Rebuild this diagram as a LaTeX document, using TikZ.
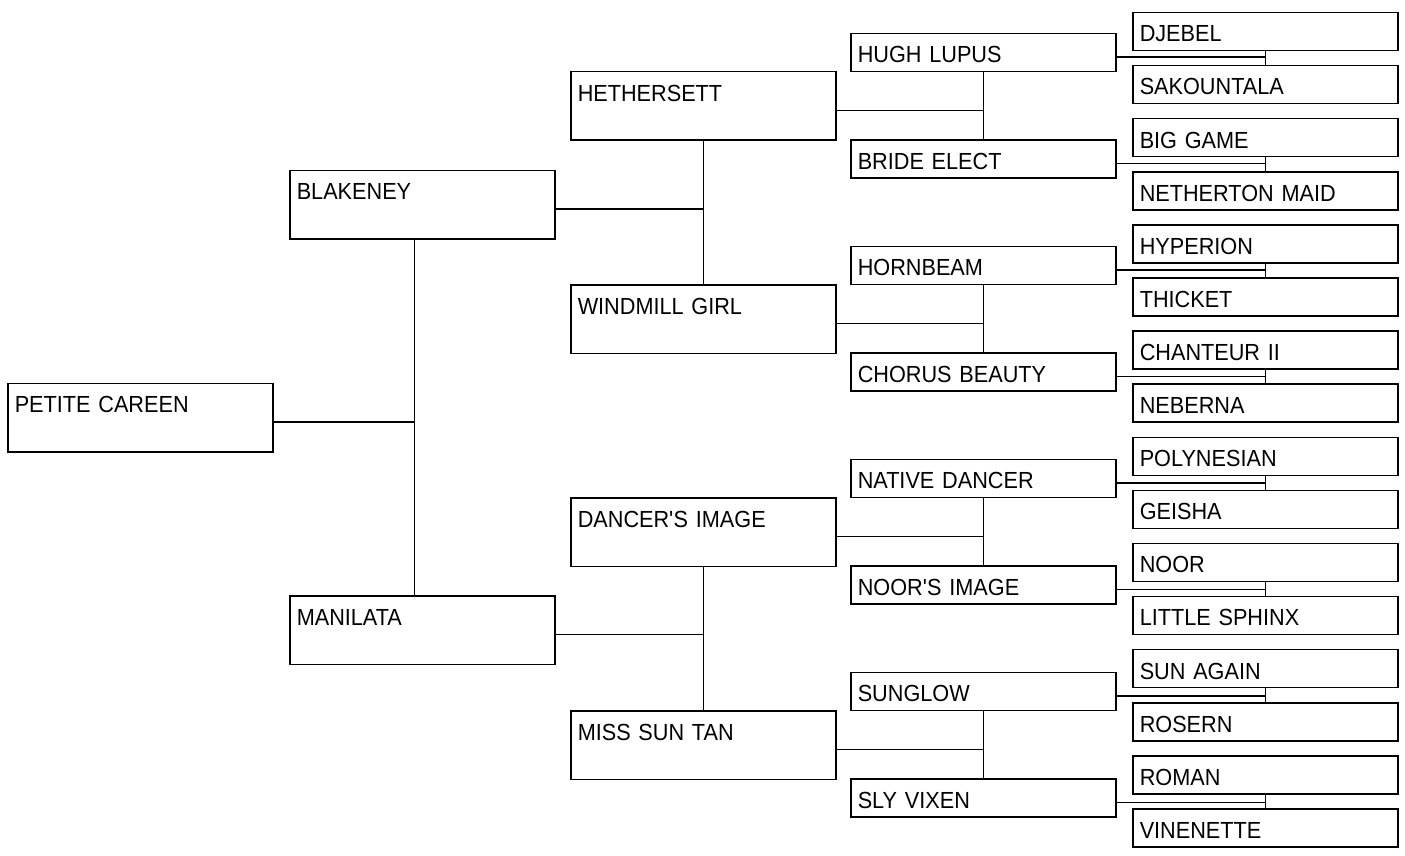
\documentclass[tikz,border=0pt]{standalone}
\usepackage{fontspec}
\setmainfont[FakeStretch=0.93]{Liberation Sans}

\begin{document}
\begin{tikzpicture}[x=1pt,y=-1pt,font=\fontsize{23.3}{26}\selectfont,
  hb/.style={draw,line width=1.5pt,anchor=north west,inner xsep=7pt,inner ysep=0pt,text width=251pt,align=left,text height=29.4pt},
  tall/.style={hb,text depth=39.1pt},
  low/.style={hb,text depth=8.6pt},
  ln/.style={line width=1.5pt}]
  \useasboundingbox (0,0) rectangle (1405,856);
  % generation 0 to 2
  \node[tall](petite) at (7,382.5){PETITE CAREEN};
  \node[tall](blakeney) at (289,169.5){BLAKENEY};
  \node[tall](manilata) at (289,595){MANILATA};
  \node[tall](hethersett) at (570,71){HETHERSETT};
  \node[tall](windmill) at (570,284){WINDMILL GIRL};
  \node[tall](dancer) at (570,497){DANCER\textquotesingle S IMAGE};
  \node[tall](suntan) at (570,710){MISS SUN TAN};
  % generation 3
  \node[low](hugh) at (850,32.7){HUGH LUPUS};
  \node[low](bride) at (850,139.2){BRIDE ELECT};
  \node[low](hornbeam) at (850,245.7){HORNBEAM};
  \node[low](chorus) at (850,352.2){CHORUS BEAUTY};
  \node[low](native) at (850,458.7){NATIVE DANCER};
  \node[low](noorsimg) at (850,565.2){NOOR\textquotesingle S IMAGE};
  \node[low](sunglow) at (850,671.7){SUNGLOW};
  \node[low](sly) at (850,778.2){SLY VIXEN};
  % generation 4
  \node[low](djebel) at (1132,11.7){DJEBEL};
  \node[low](sakountala) at (1132,64.8){SAKOUNTALA};
  \node[low](biggame) at (1132,117.9){BIG GAME};
  \node[low](netherton) at (1132,171.0){NETHERTON MAID};
  \node[low](hyperion) at (1132,224.1){HYPERION};
  \node[low](thicket) at (1132,277.2){THICKET};
  \node[low](chanteur) at (1132,330.3){CHANTEUR II};
  \node[low](neberna) at (1132,383.4){NEBERNA};
  \node[low](polynesian) at (1132,436.5){POLYNESIAN};
  \node[low](geisha) at (1132,489.6){GEISHA};
  \node[low](noor) at (1132,542.7){NOOR};
  \node[low](sphinx) at (1132,595.8){LITTLE SPHINX};
  \node[low](sunagain) at (1132,648.9){SUN AGAIN};
  \node[low](rosern) at (1132,702.0){ROSERN};
  \node[low](roman) at (1132,755.1){ROMAN};
  \node[low](vinenette) at (1132,808.2){VINENETTE};
  % connectors
  \draw[ln]([xshift=-8pt]blakeney.south)--([xshift=-8pt]manilata.north) ([yshift=-4.6pt]petite.east)-|([xshift=-8pt]blakeney.south);
  \draw[ln](hethersett.south)--(windmill.north) ([yshift=-4.6pt]blakeney.east)-|(hethersett.south);
  \draw[ln](dancer.south)--(suntan.north) ([yshift=-4.6pt]manilata.east)-|(dancer.south);
  \draw[ln](hugh.south)--(bride.north) ([yshift=-4.6pt]hethersett.east)-|(hugh.south);
  \draw[ln](hornbeam.south)--(chorus.north) ([yshift=-4.6pt]windmill.east)-|(hornbeam.south);
  \draw[ln](native.south)--(noorsimg.north) ([yshift=-4.6pt]dancer.east)-|(native.south);
  \draw[ln](sunglow.south)--(sly.north) ([yshift=-4.6pt]suntan.east)-|(sunglow.south);
  \draw[ln](djebel.south)--(sakountala.north) ([yshift=-4.6pt]hugh.east)-|(djebel.south);
  \draw[ln](biggame.south)--(netherton.north) ([yshift=-4.6pt]bride.east)-|(biggame.south);
  \draw[ln](hyperion.south)--(thicket.north) ([yshift=-4.6pt]hornbeam.east)-|(hyperion.south);
  \draw[ln](chanteur.south)--(neberna.north) ([yshift=-4.6pt]chorus.east)-|(chanteur.south);
  \draw[ln](polynesian.south)--(geisha.north) ([yshift=-4.6pt]native.east)-|(polynesian.south);
  \draw[ln](noor.south)--(sphinx.north) ([yshift=-4.6pt]noorsimg.east)-|(noor.south);
  \draw[ln](sunagain.south)--(rosern.north) ([yshift=-4.6pt]sunglow.east)-|(sunagain.south);
  \draw[ln](roman.south)--(vinenette.north) ([yshift=-4.6pt]sly.east)-|(roman.south);
\end{tikzpicture}
\end{document}
